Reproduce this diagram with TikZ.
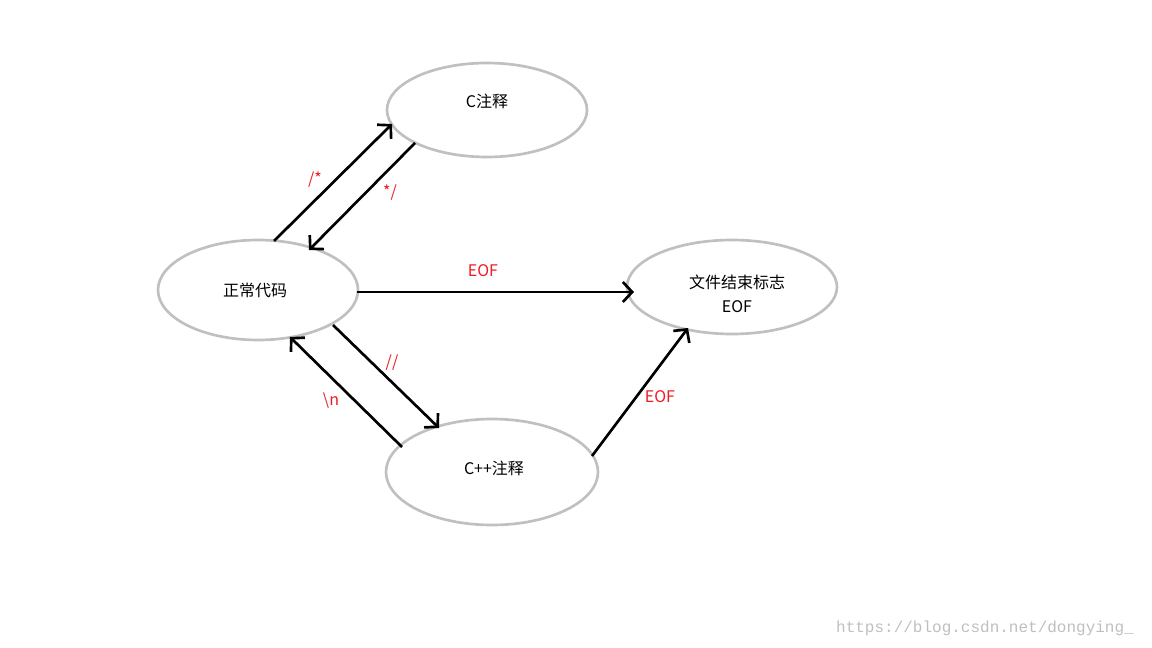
\documentclass[tikz,border=0pt]{standalone}
\usepackage{fontspec}
\setmainfont{Noto Sans CJK SC}
\newfontfamily\wmfont{Liberation Mono}
\usetikzlibrary{arrows.meta,shapes.geometric}
\definecolor{ellgray}{RGB}{192,192,192}
\definecolor{lblred}{RGB}{237,28,36}
\begin{document}
\begin{tikzpicture}[x=0.75pt,y=-0.75pt,
  st/.style={draw=ellgray,line width=2pt,ellipse,font=\fontsize{12}{14}\selectfont},
  tr/.style={draw=black,line width=2pt,-{Straight Barb[length=7pt,width=15pt,line width=2pt]}},
  lbl/.style={text=lblred,font=\fontsize{12}{14}\selectfont}]
\useasboundingbox (0,0) rectangle (1152,648);
\draw[st] (487,110) ellipse [x radius=100,y radius=47];
\node (c) at (487,101) {\fontsize{12}{14}\selectfont C注释};
\draw[st] (258,290) ellipse [x radius=100,y radius=50];
\node (n) at (255,290) {\fontsize{12}{14}\selectfont 正常代码};
\draw[st] (732,287) ellipse [x radius=105,y radius=47];
\node[align=center] (e) at (737,294) {\fontsize{12}{14}\selectfont 文件结束标志\\[6pt]\fontsize{12}{14}\selectfont EOF};
\draw[st] (492,472) ellipse [x radius=106,y radius=53];
\node (cpp) at (494,468) {\fontsize{12}{14}\selectfont C++注释};
\coordinate (a1) at (274,241); \coordinate (a2) at (392,124);
\coordinate (b1) at (415,143); \coordinate (b2) at (309,250);
\coordinate (c1) at (357,292); \coordinate (c2) at (634,292);
\coordinate (d1) at (333,325); \coordinate (d2) at (439,428);
\coordinate (f1) at (402,447); \coordinate (f2) at (290,337);
\coordinate (g1) at (592,456); \coordinate (g2) at (688,328);
\draw[tr] (a1) -- (a2);
\draw[tr] (b1) -- (b2);
\draw[tr] (c1) -- (c2);
\draw[tr] (d1) -- (d2);
\draw[tr] (f1) -- (f2);
\draw[tr] (g1) -- (g2);
\node[lbl] (l1) at (315,180) {/*};
\node[lbl] (l2) at (390,193) {*/};
\node[lbl] (l3) at (483,271) {EOF};
\node[lbl] (l4) at (392,363) {//};
\node[lbl] (l5) at (331,401) {\textbackslash n};
\node[lbl] (l6) at (660,397) {EOF};
\node[text=black!25,font=\wmfont\fontsize{12}{14}\selectfont] (wm) at (985,628) {https://blog.csdn.net/dongying\_};
\end{tikzpicture}
\end{document}
